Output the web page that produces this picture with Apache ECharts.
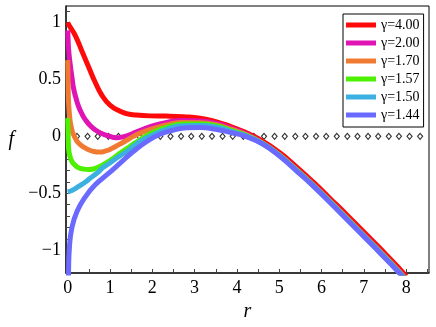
<!DOCTYPE html>
<html>
<head>
<meta charset="utf-8">
<script src="https://cdn.jsdelivr.net/npm/echarts@6/dist/echarts.min.js"></script>
<style>
  html, body { margin: 0; padding: 0; background: #fff; }
  #chart { width: 436px; height: 327px; }
</style>
</head>
<body>
<div id="chart"></div>
<script>
// curves f(r) as [r, f]
const g400 = [[0,1.0],[0.05,0.965],[0.18,0.885],[0.34,0.745],[0.5,0.605],[0.65,0.475],[0.81,0.36],[1.0,0.275],
  [1.24,0.22],[1.39,0.2],[1.55,0.19],[1.95,0.18],[2.34,0.178],[2.73,0.172],[3.13,0.16],[3.5,0.13],
  [3.84,0.088],[4.2,0.035],[4.6,-0.04],[5.0,-0.14],[5.4,-0.265],[5.8,-0.40],[6.2,-0.545],[6.6,-0.69],
  [7.0,-0.84],[7.4,-0.99],[7.8,-1.145],[8.0,-1.23]]
const g200 = [[0,0.93],[0.01,0.85],[0.02,0.77],[0.06,0.63],[0.1,0.52],[0.14,0.42],[0.2,0.33],[0.26,0.26],
  [0.34,0.195],[0.42,0.145],[0.53,0.095],[0.65,0.057],[0.8,0.025],[0.97,0.003],[1.15,-0.012],[1.3,-0.005],
  [1.45,0.012],[1.6,0.035],[1.75,0.058],[1.95,0.086],[2.34,0.122],[2.73,0.14],[3.13,0.135],[3.5,0.115],
  [3.84,0.075],[4.2,0.025],[4.6,-0.055],[5.0,-0.158],[5.4,-0.286],[5.8,-0.421],[6.2,-0.566],[6.6,-0.714],
  [7.0,-0.864],[7.4,-1.014],[7.8,-1.169],[8.0,-1.254]]
const g170 = [[0,0.67],[0.005,0.58],[0.01,0.48],[0.02,0.305],[0.04,0.2],[0.06,0.13],[0.1,0.055],[0.14,0.013],
  [0.2,-0.03],[0.26,-0.06],[0.38,-0.095],[0.5,-0.118],[0.62,-0.133],[0.75,-0.138],[0.9,-0.128],[1.05,-0.105],
  [1.2,-0.075],[1.39,-0.035],[1.55,0.0],[1.71,0.028],[2.02,0.068],[2.34,0.1],[2.73,0.122],[3.13,0.12],
  [3.5,0.103],[3.84,0.065],[4.2,0.018],[4.6,-0.058],[5.0,-0.161],[5.4,-0.29],[5.8,-0.425],[6.2,-0.57],
  [6.6,-0.718],[7.0,-0.868],[7.4,-1.018],[7.8,-1.173],[8.0,-1.258]]
const g157 = [[0,0.16],[0.005,0.1],[0.01,0.04],[0.02,-0.1],[0.05,-0.17],[0.1,-0.22],[0.18,-0.255],[0.26,-0.275],
  [0.38,-0.288],[0.5,-0.292],[0.62,-0.285],[0.76,-0.265],[0.9,-0.235],[1.05,-0.2],[1.2,-0.158],[1.39,-0.11],
  [1.55,-0.068],[1.71,-0.03],[2.02,0.035],[2.34,0.08],[2.73,0.108],[3.13,0.108],[3.5,0.093],[3.84,0.055],
  [4.2,0.012],[4.6,-0.06],[5.0,-0.164],[5.4,-0.293],[5.8,-0.428],[6.2,-0.573],[6.6,-0.722],[7.0,-0.872],
  [7.4,-1.022],[7.8,-1.177],[8.0,-1.262]]
const g150 = [[0,-0.487],[0.1,-0.475],[0.18,-0.458],[0.3,-0.43],[0.42,-0.4],[0.53,-0.368],[0.65,-0.335],
  [0.76,-0.3],[0.84,-0.272],[0.97,-0.24],[1.1,-0.205],[1.24,-0.17],[1.39,-0.135],[1.55,-0.09],[1.71,-0.045],
  [2.02,0.015],[2.34,0.062],[2.73,0.093],[3.13,0.095],[3.5,0.083],[3.84,0.046],[4.2,0.006],[4.6,-0.063],
  [5.0,-0.167],[5.4,-0.297],[5.8,-0.432],[6.2,-0.577],[6.6,-0.726],[7.0,-0.876],[7.4,-1.026],[7.8,-1.181],
  [8.0,-1.266]]
const g144 = [[0.003,-1.5],[0.02,-1.19],[0.04,-0.98],[0.1,-0.8],[0.22,-0.66],[0.42,-0.53],[0.65,-0.425],
  [0.95,-0.33],[1.24,-0.235],[1.55,-0.133],[1.87,-0.045],[2.18,0.018],[2.5,0.055],[2.81,0.076],[3.13,0.078],
  [3.5,0.063],[3.84,0.035],[4.2,0.0],[4.6,-0.065],[5.0,-0.17],[5.4,-0.30],[5.8,-0.435],[6.2,-0.58],
  [6.6,-0.73],[7.0,-0.88],[7.4,-1.03],[7.8,-1.185],[8.0,-1.27]]

// the dotted f = 0 reference
const zeroR = [0.22,0.47,0.71,0.96,1.2,1.45,1.69,1.94,2.19,2.43,2.68,2.92,3.17,3.41,3.66,3.9,4.15,
  4.4,4.64,4.89,5.13,5.38,5.62,5.87,6.11,6.36,6.61,6.85,7.1,7.34,7.59,7.83,8.08,8.33]

const names = ["γ=4.00", "γ=2.00", "γ=1.70", "γ=1.57", "γ=1.50", "γ=1.44"]
const curves = [g400, g200, g170, g157, g150, g144]
const colors = ["#ff0a0a", "#e014b4", "#f07a32", "#4cf000", "#3cb0e0", "#6a6aff"]

const xTicks = [0,0.5,1,1.5,2,2.5,3,3.5,4,4.5,5,5.5,6,6.5,7,7.5,8,8.5]
const xLabels = [0,1,2,3,4,5,6,7,8]

const serif = "'Liberation Serif', 'Times New Roman', serif"

let chart = echarts.init(document.getElementById("chart"), null, { renderer: "canvas" })

let series = [{
  type: "scatter",
  name: "zero",
  data: zeroR.map(r => [r, 0]),
  symbol: "diamond",
  symbolSize: [5, 6],
  itemStyle: { color: "#fff", borderColor: "#000", borderWidth: 1.2 },
  z: 1,
  silent: true
}]
curves.forEach((c, i) => {
  series.push({
    type: "line",
    name: names[i],
    data: c,
    smooth: 0.5,
    showSymbol: false,
    lineStyle: { color: colors[i], width: 5 },
    itemStyle: { color: colors[i] },
    z: 2 + i
  })
})

chart.setOption({
  animation: false,
  grid: { left: 66, right: 7, top: 6, bottom: 54, show: true, borderColor: "#000", borderWidth: 1 },
  legend: {
    data: names,
    orient: "vertical",
    left: 343, top: 14,
    padding: [4, 4, 5, 3],
    borderColor: "#000", borderWidth: 1,
    icon: "rect",
    itemWidth: 30, itemHeight: 5,
    itemGap: 4,
    textStyle: { fontFamily: serif, fontSize: 14, color: "#000", lineHeight: 13 }
  },
  xAxis: {
    type: "value",
    min: -0.04, max: 8.54,
    name: "r",
    nameLocation: "middle",
    nameGap: 26,
    nameTextStyle: { fontFamily: serif, fontStyle: "italic", fontSize: 20, color: "#000" },
    axisLine: { onZero: false, lineStyle: { color: "#222", width: 1.5 } },
    axisTick: { inside: true, length: 4, customValues: xTicks, lineStyle: { color: "#444" } },
    axisLabel: { customValues: xLabels, fontFamily: serif, fontSize: 18, color: "#000", margin: 6 },
    splitLine: { show: false }
  },
  yAxis: {
    type: "value",
    min: -1.2, max: 1.145, interval: 0.1,
    name: "f",
    nameLocation: "middle",
    nameRotate: 0,
    nameGap: 52,
    nameTextStyle: { fontFamily: serif, fontStyle: "italic", fontSize: 20, color: "#000" },
    axisLine: { onZero: false, lineStyle: { color: "#222", width: 1.5 } },
    axisTick: { inside: true, length: 4, lineStyle: { color: "#444" } },
    axisLabel: {
      fontFamily: serif, fontSize: 18, color: "#000", margin: 5,
      showMaxLabel: false,
      formatter: v => {
        if (Math.abs(v * 2 - Math.round(v * 2)) > 1e-6) return ""
        let s = String(Math.round(v * 2) / 2)
        return s.replace("-", "\u2212")
      }
    },
    splitLine: { show: false }
  },
  series: series
})
</script>
</body>
</html>
